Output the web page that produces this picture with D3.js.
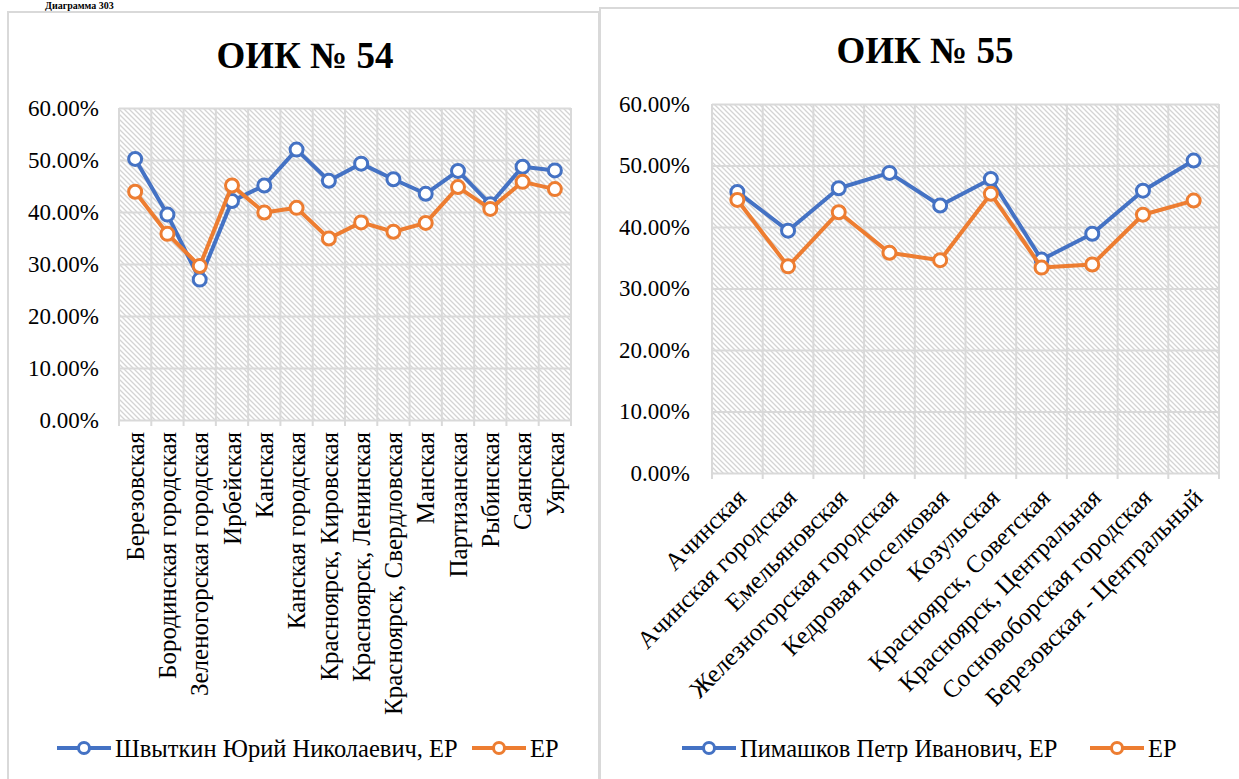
<!DOCTYPE html>
<html>
<head>
<meta charset="utf-8">
<script src="https://cdn.jsdelivr.net/npm/d3@7"></script>
<style>
  body { margin: 0; background: #fff; }
  svg { display: block; }
</style>
</head>
<body>
<div id="chart"></div>
<script>
// ОИК № 54
var cats54 = ["Березовская", "Бородинская городская", "Зеленогорская городская", "Ирбейская", "Канская",
  "Канская городская", "Красноярск, Кировская", "Красноярск, Ленинская", "Красноярск, Свердловская",
  "Манская", "Партизанская", "Рыбинская", "Саянская", "Уярская"];
var cand54 = [0.502, 0.395, 0.270, 0.421, 0.451, 0.520, 0.460, 0.493, 0.463, 0.435, 0.479, 0.415, 0.487, 0.480];
var party54 = [0.439, 0.358, 0.296, 0.451, 0.399, 0.408, 0.349, 0.380, 0.362, 0.379, 0.448, 0.406, 0.458, 0.444];
var names54 = ["Швыткин Юрий Николаевич, ЕР", "ЕР"];

// ОИК № 55
var cats55 = ["Ачинская", "Ачинская городская", "Емельяновская", "Железногорская городская",
  "Кедровая поселковая", "Козульская", "Красноярск, Советская", "Красноярск, Центральная",
  "Сосновоборская городская", "Березовская - Центральный"];
var cand55 = [0.457, 0.394, 0.463, 0.488, 0.435, 0.478, 0.347, 0.389, 0.459, 0.508];
var party55 = [0.444, 0.336, 0.424, 0.358, 0.346, 0.454, 0.334, 0.339, 0.420, 0.443];
var names55 = ["Пимашков Петр Иванович, ЕР", "ЕР"];

var yTicks = [0, 0.1, 0.2, 0.3, 0.4, 0.5, 0.6];
var colors = ["#4472C4", "#ED7D31"];
var FONT = "'Liberation Serif', 'Times New Roman', 'DejaVu Serif', serif";

var W = 1239, H = 779;
var svg = d3.select("#chart").append("svg").attr("width", W).attr("height", H)
  .style("font-family", FONT);

// hatch pattern for plot area
var defs = svg.append("defs");
var pat = defs.append("pattern")
  .attr("id", "hatch")
  .attr("patternUnits", "userSpaceOnUse")
  .attr("width", 5).attr("height", 5);
pat.append("rect").attr("width", 5).attr("height", 5).attr("fill", "#fff");
pat.append("path")
  .attr("d", "M-1,-1 L6,6 M-1,4 L1,6 M4,-1 L6,1")
  .attr("stroke", "#d4d4d4").attr("stroke-width", 1.3);

// small caption above the charts
svg.append("text").attr("x", 45).attr("y", 9)
  .style("font-family", FONT).attr("font-size", 10).attr("font-weight", "bold")
  .text("Диаграмма 303");

function drawChart(cfg) {
  var g = svg.append("g");

  // outer frame
  g.append("rect")
    .attr("x", cfg.frame[0]).attr("y", cfg.frame[1])
    .attr("width", cfg.frame[2]).attr("height", cfg.frame[3])
    .attr("fill", "#fff").attr("stroke", "#d9d9d9").attr("stroke-width", 2);

  g.append("text")
    .attr("x", cfg.titleX).attr("y", cfg.titleY)
    .attr("text-anchor", "middle")
    .style("font-family", FONT)
    .attr("font-size", 37).attr("font-weight", "bold")
    .text(cfg.title);

  var x = d3.scaleBand().domain(cfg.cats).range([cfg.left, cfg.right]).padding(0);
  var y = d3.scaleLinear().domain([0, 0.6]).range([cfg.bottom, cfg.top]);
  var cx = function(d) { return x(d) + x.bandwidth() / 2; };

  g.append("rect")
    .attr("x", cfg.left).attr("y", cfg.top)
    .attr("width", cfg.right - cfg.left).attr("height", cfg.bottom - cfg.top)
    .attr("fill", "url(#hatch)");

  // horizontal gridlines + y labels
  var yAxis = d3.axisLeft(y).tickValues(yTicks).tickFormat(d3.format(".2%"))
    .tickSize(-(cfg.right - cfg.left)).tickPadding(cfg.labelPad);
  var ya = g.append("g").attr("transform", "translate(" + cfg.left + ",0)").call(yAxis);
  ya.attr("font-family", null).attr("font-size", null);
  ya.select(".domain").remove();
  ya.selectAll(".tick line").attr("stroke", "#d9d9d9").attr("stroke-width", 2);
  ya.selectAll(".tick text").style("font-family", FONT).attr("font-size", 23).attr("fill", "#000");

  // vertical gridlines at category boundaries, with tick marks below axis
  var bounds = cfg.cats.map(function(d) { return x(d); }).concat([cfg.right]);
  g.append("g").selectAll("line").data(bounds).enter().append("line")
    .attr("x1", function(d) { return d; }).attr("x2", function(d) { return d; })
    .attr("y1", cfg.top).attr("y2", cfg.bottom + 6)
    .attr("stroke", "#d9d9d9").attr("stroke-width", 2);

  // x labels
  g.append("g").selectAll("text").data(cfg.cats).enter().append("text")
    .attr("transform", function(d) {
      return "translate(" + (cx(d) + cfg.lblDx) + "," + (cfg.bottom + cfg.lblDy) + ") rotate(" + cfg.rot + ")";
    })
    .attr("text-anchor", "end")
    .attr("dy", "0.35em")
    .style("font-family", FONT)
    .attr("font-size", 25)
    .text(function(d) { return d; });

  // series
  var series = [cfg.s1, cfg.s2];
  series.forEach(function(vals, si) {
    var line = d3.line()
      .x(function(d, i) { return cx(cfg.cats[i]); })
      .y(function(d) { return y(d); });
    g.append("path").datum(vals)
      .attr("d", line).attr("fill", "none")
      .attr("stroke", colors[si]).attr("stroke-width", 4)
      .attr("stroke-linejoin", "round");
    g.append("g").selectAll("circle").data(vals).enter().append("circle")
      .attr("cx", function(d, i) { return cx(cfg.cats[i]); })
      .attr("cy", function(d) { return y(d); })
      .attr("r", 6.5)
      .attr("fill", "#fff").attr("stroke", colors[si]).attr("stroke-width", 3);
  });

  // legend
  cfg.legend.forEach(function(it, si) {
    var lg = g.append("g").attr("transform", "translate(" + it[0] + "," + cfg.legendY + ")");
    lg.append("line").attr("x1", 0).attr("x2", 54).attr("y1", 0).attr("y2", 0)
      .attr("stroke", colors[si]).attr("stroke-width", 4);
    lg.append("circle").attr("cx", 27).attr("cy", 0).attr("r", 5.5)
      .attr("fill", "#fff").attr("stroke", colors[si]).attr("stroke-width", 3);
    lg.append("text").attr("x", 58).attr("y", 0).attr("dy", "0.35em")
      .style("font-family", FONT)
      .attr("font-size", 24.5).text(cfg.names[si]);
  });
}

drawChart({
  frame: [8, 12, 591, 800],
  title: "ОИК № 54", titleX: 305, titleY: 68,
  cats: cats54, s1: cand54, s2: party54, names: names54,
  left: 119, right: 571, top: 108, bottom: 420, labelPad: 20,
  lblDx: 0, lblDy: 12, rot: -90,
  legend: [[57], [472]], legendY: 748
});

drawChart({
  frame: [600, 8, 660, 800],
  title: "ОИК № 55", titleX: 925, titleY: 63,
  cats: cats55, s1: cand55, s2: party55, names: names55,
  left: 712, right: 1219, top: 104, bottom: 473, labelPad: 22,
  lblDx: 4, lblDy: 20, rot: -45,
  legend: [[682], [1090]], legendY: 748
});
</script>
</body>
</html>
